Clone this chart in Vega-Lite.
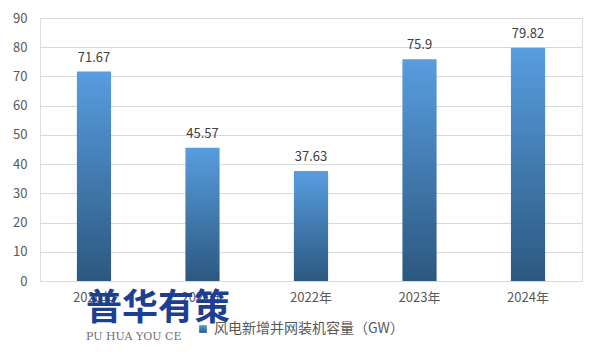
{
  "$schema": "https://vega.github.io/schema/vega-lite/v6.json",
  "width": 542,
  "height": 263,
  "autosize": {"type": "none"},
  "padding": {"left": 40, "top": 18, "right": 19, "bottom": 80},
  "background": "white",
  "title": {
    "text": "普华有策",
    "subtitle": "PU HUA YOU CE",
    "orient": "bottom",
    "anchor": "start",
    "frame": "group",
    "offset": -44,
    "dx": 46,
    "font": "Noto Sans CJK SC",
    "fontSize": 36,
    "fontWeight": "bold",
    "color": "#1d3f93",
    "subtitleFont": "DejaVu Serif",
    "subtitleFontSize": 11,
    "subtitleColor": "#6f6f6f",
    "subtitlePadding": 3
  },
  "data": {
    "values": [
      {"year": "2020年", "value": 71.67, "series": "风电新增并网装机容量（GW）"},
      {"year": "2021年", "value": 45.57, "series": "风电新增并网装机容量（GW）"},
      {"year": "2022年", "value": 37.63, "series": "风电新增并网装机容量（GW）"},
      {"year": "2023年", "value": 75.9, "series": "风电新增并网装机容量（GW）"},
      {"year": "2024年", "value": 79.82, "series": "风电新增并网装机容量（GW）"}
    ]
  },
  "encoding": {
    "x": {
      "field": "year",
      "type": "nominal",
      "sort": null,
      "scale": {"paddingInner": 0.685, "paddingOuter": 0.34},
      "axis": {
        "title": null,
        "labelAngle": 0,
        "labelFont": "Noto Sans CJK SC",
        "labelFontSize": 13,
        "labelColor": "#595959",
        "labelPadding": 10,
        "ticks": false,
        "domainColor": "#d9d9d9",
        "grid": false
      }
    },
    "y": {
      "field": "value",
      "type": "quantitative",
      "scale": {"domain": [0, 90]},
      "axis": {
        "title": null,
        "values": [0, 10, 20, 30, 40, 50, 60, 70, 80, 90],
        "labelFont": "Noto Sans CJK SC",
        "labelFontSize": 13,
        "labelColor": "#595959",
        "labelPadding": 13,
        "ticks": false,
        "domain": false,
        "gridColor": "#d9d9d9"
      }
    }
  },
  "layer": [
    {
      "mark": {
        "type": "bar",
        "strokeWidth": 0,
        "fill": {"gradient": "linear", "x1": 0, "y1": 0, "x2": 0, "y2": 1,
                 "stops": [{"offset": 0, "color": "#589de0"}, {"offset": 1, "color": "#2c587f"}]}
      },
      "encoding": {
        "stroke": {
          "field": "series",
          "type": "nominal",
          "scale": {"range": ["#4a86c6"]},
          "legend": {
            "title": null,
            "orient": "none",
            "legendX": 156,
            "legendY": 304,
            "symbolType": "square",
            "symbolSize": 60,
            "symbolStrokeWidth": 0,
            "labelFont": "Noto Sans CJK SC",
            "labelFontSize": 14,
            "labelColor": "#595959",
            "labelOffset": 4,
            "labelLimit": 0,
            "encode": {"symbols": {"update": {"fill": {"value": "#4a86c6"}, "opacity": {"value": 1}}}}
          }
        }
      }
    },
    {
      "mark": {"type": "text", "dy": -14, "font": "Noto Sans CJK SC", "fontSize": 13, "color": "#404040"},
      "encoding": {"text": {"field": "value", "type": "quantitative"}}
    }
  ]
}
